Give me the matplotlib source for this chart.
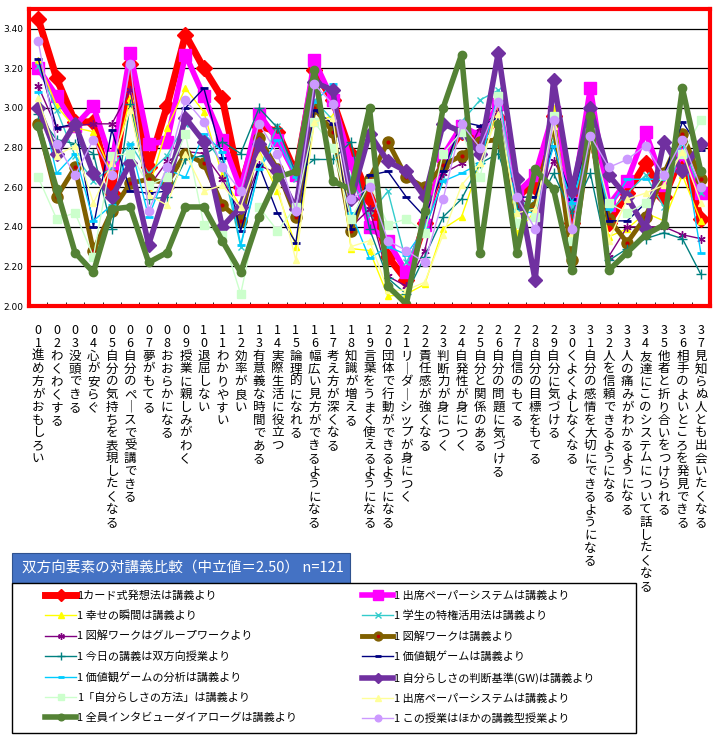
import matplotlib
matplotlib.use('Agg')
import matplotlib.pyplot as plt
from matplotlib.patches import Rectangle
import numpy as np

plt.rcParams['font.family'] = ['Noto Sans CJK JP', 'DejaVu Sans']

# categories (37 items)
items = ['進め方がおもしろい', 'わくわくする', '没頭できる', '心が安らぐ',
         '自分の気持ちを表現したくなる', '自分のペースで受講できる', '夢がもてる',
         'おおらかになる', '授業に親しみがわく', '退屈しない', 'わかりやすい', '効率が良い',
         '有意義な時間である', '実際生活に役立つ', '論理的になれる',
         '幅広い見方ができるようになる', '考え方が深くなる', '知識が増える',
         '言葉をうまく使えるようになる', '団体で行動ができるようになる',
         'リーダーシップが身につく', '責任感が強くなる', '判断力が身につく', '自発性が身につく',
         '自分と関係のある', '自分の問題に気づける', '自信のもてる', '自分の目標をもてる',
         '自分に気づける', 'くよくよしなくなる', '自分の感情を大切にできるようになる',
         '人を信頼できるようになる', '人の痛みがわかるようになる',
         '友達にこのシステムについて話したくなる', '他者と折り合いをつけられる',
         '相手のよいところを発見できる', '見知らぬ人とも出会いたくなる']

# series values
red = [3.45, 3.15, 2.93, 2.93, 2.57, 3.22, 2.70, 3.01, 3.37, 3.20, 3.05, 2.60,
       2.91, 2.88, 2.67, 3.19, 3.04, 2.77, 2.54, 2.25, 2.13, 2.42, 2.74, 2.88, 2.84,
       2.95, 2.57, 2.60, 2.96, 2.42, 2.90, 2.42, 2.57, 2.72, 2.55, 2.77, 2.44]
magenta = [3.20, 3.06, 2.91, 3.01, 2.72, 3.28, 2.82, 2.83, 3.27, 3.06, 2.84, 2.59,
           2.97, 2.84, 2.66, 3.24, 3.04, 2.72, 2.40, 2.33, 2.17, 2.41, 2.76, 2.91, 2.86,
           3.02, 2.57, 2.66, 2.98, 2.52, 3.10, 2.51, 2.63, 2.88, 2.61, 2.77, 2.57]
yellow = [3.24, 3.01, 2.90, 2.88, 2.67, 3.05, 2.59, 2.90, 3.10, 2.98, 2.66, 2.50,
          2.77, 2.58, 2.30, 2.93, 2.96, 2.29, 2.28, 2.05, 2.06, 2.11, 2.39, 2.45, 2.72,
          2.99, 2.37, 2.48, 3.00, 2.32, 2.84, 2.35, 2.39, 2.47, 2.43, 2.66, 2.43]
cyan_x = [3.21, 2.99, 2.76, 2.63, 2.70, 2.82, 2.67, 2.76, 2.92, 2.86, 2.72, 2.30,
          2.69, 2.91, 2.64, 3.04, 2.94, 2.64, 2.46, 2.58, 2.22, 2.40, 2.63, 2.93, 3.04,
          3.09, 2.52, 2.52, 2.84, 2.50, 2.86, 2.47, 2.57, 2.66, 2.50, 2.83, 2.57]
purple_star = [3.11, 2.90, 2.91, 2.92, 2.92, 3.09, 2.60, 2.73, 2.78, 2.77, 2.64, 2.47,
               2.71, 2.67, 2.49, 2.99, 2.92, 2.40, 2.49, 2.15, 2.10, 2.28, 2.67, 2.72, 2.90,
               2.98, 2.55, 2.50, 2.73, 2.58, 2.86, 2.25, 2.40, 2.40, 2.40, 2.36, 2.34]
brown = [2.92, 2.55, 2.70, 2.28, 2.48, 2.62, 2.64, 2.62, 2.77, 2.72, 2.51, 2.43,
         2.85, 2.69, 2.45, 3.00, 2.88, 2.38, 2.64, 2.83, 2.65, 2.60, 2.71, 2.76, 2.83,
         2.84, 2.50, 2.50, 2.93, 2.23, 2.86, 2.44, 2.32, 2.45, 2.67, 2.87, 2.64]
teal = [2.97, 2.84, 2.82, 2.77, 2.39, 3.02, 2.54, 2.55, 2.74, 2.76, 2.83, 2.77,
        3.00, 2.90, 2.67, 2.74, 2.74, 2.83, 2.39, 2.14, 2.06, 2.25, 2.45, 2.54, 2.72,
        2.77, 2.49, 2.49, 2.67, 2.47, 2.67, 2.23, 2.29, 2.34, 2.37, 2.34, 2.16]
navy = [3.25, 2.90, 2.92, 2.40, 2.89, 2.58, 2.57, 2.58, 3.00, 3.10, 2.75, 2.38,
        2.71, 2.47, 2.32, 2.99, 2.92, 2.39, 2.66, 2.68, 2.55, 2.45, 2.68, 2.93, 2.91,
        2.95, 2.55, 2.55, 2.81, 2.54, 2.86, 2.43, 2.43, 2.52, 2.66, 2.93, 2.79]
lightblue = [3.08, 2.67, 2.77, 2.43, 2.51, 2.82, 2.45, 2.69, 2.65, 2.87, 2.78, 2.31,
             2.69, 2.84, 2.65, 3.03, 3.12, 2.47, 2.24, 2.30, 2.26, 2.39, 2.63, 2.67, 2.72,
             3.07, 2.48, 2.47, 2.81, 2.52, 2.86, 2.49, 2.64, 2.64, 2.64, 2.84, 2.27]
purple_dia = [3.00, 2.77, 2.92, 2.67, 2.55, 2.72, 2.31, 2.60, 2.95, 2.83, 2.40, 2.50,
              2.82, 2.68, 2.49, 3.13, 3.09, 2.54, 2.87, 2.73, 2.68, 2.55, 2.92, 2.88, 2.77,
              3.28, 2.64, 2.13, 3.14, 2.58, 3.00, 2.66, 2.55, 2.39, 2.83, 2.68, 2.82]
palegreen = [2.65, 2.44, 2.47, 2.25, 2.76, 2.77, 2.61, 2.65, 2.87, 2.41, 2.36, 2.06,
             2.50, 2.38, 2.50, 2.93, 2.80, 2.44, 2.62, 2.41, 2.44, 2.37, 2.77, 2.88, 2.65,
             3.06, 2.42, 2.45, 2.96, 2.33, 2.88, 2.52, 2.47, 2.52, 2.66, 2.77, 2.94]
paleyellow = [3.05, 2.76, 2.81, 2.52, 2.72, 2.99, 2.56, 2.51, 2.77, 2.58, 2.61, 2.50,
              2.76, 2.61, 2.23, 2.93, 2.95, 2.30, 2.33, 2.08, 2.08, 2.12, 2.36, 2.61, 2.72,
              2.97, 2.47, 2.49, 2.91, 2.37, 2.84, 2.33, 2.54, 2.57, 2.61, 2.78, 2.52]
green = [2.91, 2.59, 2.27, 2.17, 2.49, 2.50, 2.22, 2.27, 2.50, 2.50, 2.33, 2.17,
         2.45, 2.65, 2.68, 3.19, 2.63, 2.59, 3.00, 2.10, 2.01, 2.48, 3.00, 3.27, 2.27,
         2.92, 2.27, 2.69, 2.59, 2.18, 2.96, 2.18, 2.27, 2.36, 2.41, 3.10, 2.68]
lavender = [3.34, 2.82, 2.66, 2.84, 2.66, 3.22, 2.48, 2.70, 3.04, 2.93, 2.70, 2.58,
            2.92, 2.77, 2.48, 3.12, 3.02, 2.54, 2.60, 2.33, 2.28, 2.22, 2.54, 2.92, 2.80,
            3.03, 2.55, 2.39, 2.94, 2.39, 2.86, 2.70, 2.74, 2.81, 2.66, 2.84, 2.60]

names = ['1カード式発想法は講義より', '1 出席ペーパーシステムは講義より',
         '1 幸せの瞬間は講義より', '1 学生の特権活用法は講義より',
         '1 図解ワークはグループワークより', '1 図解ワークは講義より',
         '1 今日の講義は双方向授業より', '1 価値観ゲームは講義より',
         '1 価値観ゲームの分析は講義より', '1 自分らしさの判断基準(GW)は講義より',
         '1「自分らしさの方法」は講義より', '1 出席ペーパーシステムは講義より',
         '1 全員インタビューダイアローグは講義より', '1 この授業はほかの講義型授業より']

title = '双方向要素の対講義比較（中立値＝2.50） n=121'

W, H = 727, 736
fig = plt.figure(figsize=(W / 100, H / 100), dpi=100)
ax = fig.add_axes([29 / W, 1 - 306 / H, 681 / W, 297 / H])

x = np.arange(len(items))
series = [red, magenta, yellow, cyan_x, purple_star, brown, teal, navy,
          lightblue, purple_dia, palegreen, paleyellow, green, lavender]
# colour, linewidth, marker, markersize
styles = [('#ff0000', 5.0, 'D', 8),
          ('#ff00ff', 4.0, 's', 9),
          ('#ffff00', 1.0, '^', 5),
          ('#33cccc', 1.0, 'x', 5),
          ('#800080', 1.0, (6, 2, 0), 6),
          ('#806000', 3.5, 'o', 8),
          ('#008080', 1.0, '+', 7),
          ('#000080', 1.0, '_', 6),
          ('#00ccff', 1.0, '_', 6),
          ('#7030a0', 4.0, 'D', 7),
          ('#ccffcc', 1.0, 's', 6),
          ('#ffff99', 1.0, '^', 5),
          ('#548235', 4.0, 'o', 6),
          ('#cc99ff', 1.0, 'o', 6)]

handles = []
for vals, (c, lw, m, ms) in zip(series, styles):
    mew = 2 if m == '_' else 1
    ln, = ax.plot(x, vals, color=c, lw=lw, marker=m, ms=ms, mfc=c, mec=c, mew=mew)
    if c == '#806000':
        dot, = ax.plot(x, vals, ls='none', marker='o', ms=2, color='#c00000')
        handles.append((ln, dot))
    else:
        handles.append(ln)

ax.set_xlim(-0.5, len(items) - 0.5)
ax.set_ylim(2.0, 3.5)
ax.set_yticks(np.arange(2.0, 3.41, 0.2))
ax.set_yticklabels(['%.2f' % v for v in np.arange(2.0, 3.41, 0.2)],
                   fontsize=6.5, family='DejaVu Sans')
ax.yaxis.grid(True, color='black', lw=0.9)
ax.set_axisbelow(True)
ax.tick_params(axis='y', length=0, pad=4)

# vertical category labels: number digits stacked, then the text
labels = []
for i, t in enumerate(items):
    s = '%02d' % (i + 1) + t.replace('ー', '｜')
    labels.append('\n'.join(s))
ax.set_xticks(x)
ax.set_xticklabels(labels, fontsize=9, linespacing=0.98, va='top')
ax.tick_params(axis='x', length=0, pad=13)
ax.set_xticks(np.arange(-0.5, len(items), 1), minor=True)
ax.tick_params(axis='x', which='minor', direction='in', length=3, color='black')

for sp in ax.spines.values():
    sp.set_color('#ff0000')
    sp.set_linewidth(3)

# title box
fig.patches.append(Rectangle((12 / W, 1 - 583 / H), 338 / W, 30 / H, transform=fig.transFigure,
                             facecolor='#4472c4', edgecolor='#2f528f', lw=0.8, zorder=4))
fig.text(22 / W, 1 - 568 / H, title, color='white', fontsize=10.5, va='center', zorder=6)

# legend frame
fig.patches.append(Rectangle((12 / W, 1 - 733 / H), 624 / W, 150 / H, transform=fig.transFigure,
                             facecolor='white', edgecolor='black', lw=1, zorder=4))
order = [0, 2, 4, 6, 8, 10, 12, 1, 3, 5, 7, 9, 11, 13]
leg = fig.legend([handles[k] for k in order], [names[k] for k in order], ncols=2,
                 loc='upper left', bbox_to_anchor=(45 / W, 1 - 733 / H, 550 / W, 143 / H),
                 mode='expand', frameon=False, fontsize=8, numpoints=1, markerscale=0.8,
                 handlelength=2.8, handletextpad=0.1, labelspacing=0.88,
                 borderpad=0, borderaxespad=0)
leg.set_zorder(6)

plt.savefig('out.png', dpi=100)
